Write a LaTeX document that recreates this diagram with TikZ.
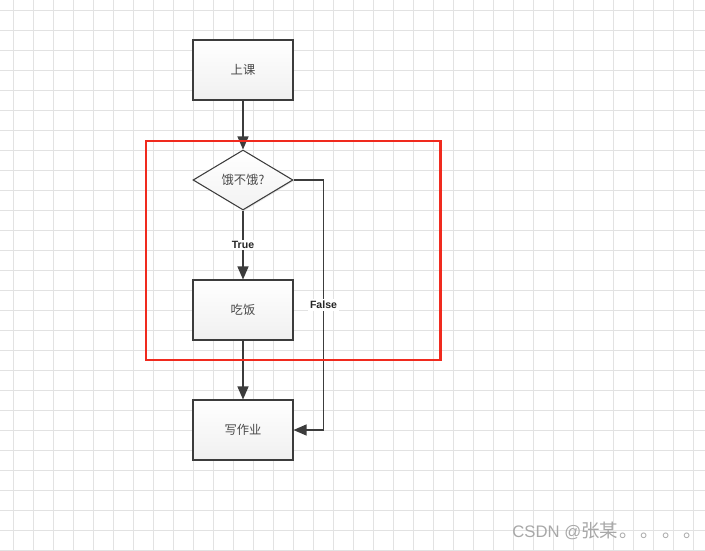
\documentclass[tikz,border=0pt]{standalone}
\usepackage{fontspec}
\setmainfont{Liberation Sans}
\newfontfamily\cjk{Noto Sans CJK SC}
\usepackage{xcolor}
\usetikzlibrary{arrows.meta,shapes.geometric,shadows}
\definecolor{gridgray}{HTML}{E2E2E2}
\definecolor{ink}{HTML}{3C3C3C}
\definecolor{textgray}{HTML}{4A4A4A}
\definecolor{framered}{HTML}{F02A1E}
\definecolor{markgray}{HTML}{A8A8A8}
\tikzset{
  gridline/.style={gridgray,line width=0.45pt},
  stepbox/.style={draw=ink,line width=0.6pt,top color=white,bottom color=gray!12,
                  minimum width=2cm,minimum height=1.2cm,inner sep=0pt,
                  drop shadow={opacity=0.2,shadow xshift=0.6pt,shadow yshift=-0.6pt},
                  font=\cjk\fontsize{7}{8}\selectfont,text=textgray},
  choice/.style={diamond,draw=ink,line width=0.6pt,top color=white,bottom color=gray!10,
                 minimum width=2cm,minimum height=1.2cm,inner sep=0pt,
                 drop shadow={opacity=0.2,shadow xshift=0.6pt,shadow yshift=-0.6pt},
                 font=\cjk\fontsize{7}{8}\selectfont,text=textgray},
  flowarr/.style={-{Triangle[length=2.6mm,width=2.2mm]},line width=0.6pt,color=ink},
  edgelabel/.style={fill=white,inner sep=1pt,font=\fontsize{6}{7}\selectfont\bfseries,text=black!85},
  redframe/.style={draw=framered,line width=1.7pt}
}

\begin{document}
\begin{tikzpicture}[x=0.02cm,y=-0.02cm]
  \useasboundingbox (0,0) rectangle (705,550);
  \fill[white] (0,0) rectangle (705,550);
  % background grid
  \foreach \i in {0,...,34}
    \draw[gridline] ({13.3+20*\i},0) -- ++(0,550);
  \foreach \j in {0,...,27}
    \draw[gridline] (0,{10+20*\j}) -- ++(705,0);

  \node[stepbox] (class) at (243,70) {上课};
  \node[choice] (hungry) at (243,180) {饿不饿?};
  \node[stepbox] (eat) at (243,310) {吃饭};
  \node[stepbox] (homework) at (243,430) {写作业};

  \draw[flowarr] (class) -- (hungry);
  \draw[flowarr] (hungry) -- node[edgelabel] {True} (eat);
  \draw[flowarr] (eat) -- (homework);
  \draw[flowarr] (hungry.east) -- ++(30,0) |- node[edgelabel,pos=0.25] {False} (homework.east);

  % highlighted part
  \draw[redframe] (146,141) rectangle (440,360);

  \node[font=\fontsize{9.5}{11}\selectfont,text=markgray,anchor=west,inner sep=0pt] (mark) at (512,531)
    {CSDN @{\cjk\fontsize{10.5}{12}\selectfont 张某\kern1pt 。\kern1.5pt 。\kern1.5pt 。\kern1.5pt 。}};
\end{tikzpicture}
\end{document}
